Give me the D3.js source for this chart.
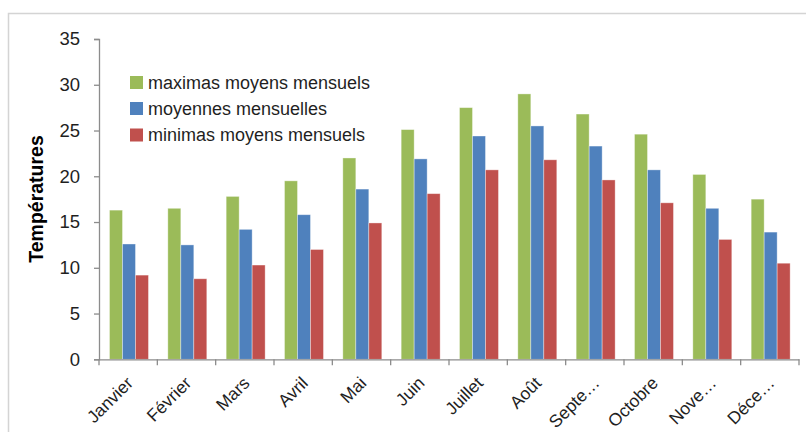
<!DOCTYPE html>
<html>
<head>
<meta charset="utf-8">
<script src="https://cdn.jsdelivr.net/npm/d3@7/dist/d3.min.js"></script>
<style>
  html, body { margin: 0; padding: 0; background: #fff; }
  svg { display: block; }
  text { font-family: "Liberation Sans", Arial, sans-serif; }
</style>
</head>
<body>
<svg id="chart" width="806" height="432"></svg>
<script>
const months = ["Janvier", "Février", "Mars", "Avril", "Mai", "Juin", "Juillet", "Août", "Septe…", "Octobre", "Nove…", "Déce…"];
const seriesNames = ["maximas moyens mensuels", "moyennes mensuelles", "minimas moyens mensuels"];
const maximas = [16.3, 16.5, 17.8, 19.5, 22.0, 25.1, 27.5, 29.0, 26.8, 24.6, 20.2, 17.5];
const moyennes = [12.6, 12.5, 14.2, 15.8, 18.6, 21.9, 24.4, 25.5, 23.3, 20.7, 16.5, 13.9];
const minimas = [9.2, 8.8, 10.3, 12.0, 14.9, 18.1, 20.7, 21.8, 19.6, 17.1, 13.1, 10.5];
const yTicks = [0, 5, 10, 15, 20, 25, 30, 35];
const yTitle = "Températures";
const colors = ["#9BBB59", "#4F81BD", "#C0504D"];

(function () {
const seriesValues = [maximas, moyennes, minimas];
const svg = d3.select("#chart");

// outer frame
svg.append("rect").attr("x", 8.5).attr("y", 13.5).attr("width", 820).attr("height", 440)
  .attr("fill", "none").attr("stroke", "#d4d4d4").attr("stroke-width", 1.5);

const pLeft = 99, pRight = 799, pTop = 39, pBottom = 359.3;
const x0 = d3.scaleBand().domain(months).range([pLeft, pRight]).padding(0);
const bw = x0.bandwidth();
const x1 = d3.scaleBand().domain(seriesNames).range([bw * 0.18, bw * 0.848]).padding(0);
const y = d3.scaleLinear().domain([0, 35]).range([pBottom, pTop]);

// bars
const groups = svg.append("g").selectAll("g").data(months).join("g")
  .attr("transform", d => `translate(${x0(d)},0)`);
groups.selectAll("rect")
  .data((m, i) => seriesNames.map((s, k) => ({ s, k, v: seriesValues[k][i] })))
  .join("rect")
  .attr("x", d => x1(d.s))
  .attr("y", d => y(d.v))
  .attr("width", x1.bandwidth())
  .attr("height", d => y(0) - y(d.v))
  .attr("fill", d => colors[d.k])
  .attr("stroke", "rgba(255,255,255,0.45)")
  .attr("stroke-width", 0.8);

// y axis
const yAxis = d3.axisLeft(y).tickValues(yTicks).tickSize(5).tickPadding(14);
const gy = svg.append("g").attr("transform", `translate(${pLeft},0)`).call(yAxis);
gy.select(".domain").attr("stroke", "#8c8c8c").attr("stroke-width", 1.3);
gy.selectAll(".tick line").attr("stroke", "#8c8c8c").attr("stroke-width", 1.3);
gy.selectAll(".tick text").attr("fill", "#1f1f1f").style("font-size", "18.5px")
  .style("font-family", "'Liberation Sans', Arial, sans-serif");

// x axis
const xAxis = d3.axisBottom(x0).tickSize(0).tickFormat("");
const gx = svg.append("g").attr("transform", `translate(0,${pBottom})`).call(xAxis);
gx.select(".domain").attr("stroke", "#8c8c8c").attr("stroke-width", 1.3);
const bounds = months.map(m => x0(m)).concat([pRight]);
gx.selectAll(".bound").data(bounds).join("line").attr("class", "bound")
  .attr("x1", d => d).attr("x2", d => d).attr("y1", 0).attr("y2", 6)
  .attr("stroke", "#8c8c8c").attr("stroke-width", 1.3);

// x labels rotated
svg.append("g").selectAll("text").data(months).join("text")
  .attr("transform", d => `translate(${x0(d) + bw / 2 - 3},${pBottom + 16}) rotate(-45)`)
  .attr("text-anchor", "end")
  .attr("dy", "0.72em")
  .attr("fill", "#1f1f1f")
  .style("font-size", "17.5px")
  .text(d => d);

// y title
svg.append("text")
  .attr("transform", `translate(43,199) rotate(-90)`)
  .attr("text-anchor", "middle")
  .attr("fill", "#000")
  .style("font-size", "19.5px").style("font-weight", "bold")
  .text(yTitle);

// legend
const lg = svg.append("g");
const legendY = [82.5, 108.5, 135];
seriesNames.forEach((s, k) => {
  lg.append("rect").attr("x", 130).attr("y", legendY[k] - 6.5).attr("width", 13).attr("height", 13)
    .attr("fill", colors[k]);
  lg.append("text").attr("x", 148).attr("y", legendY[k]).attr("dy", "0.35em")
    .attr("fill", "#1f1f1f").style("font-size", "18px").text(s);
});
})();
</script>
</body>
</html>
